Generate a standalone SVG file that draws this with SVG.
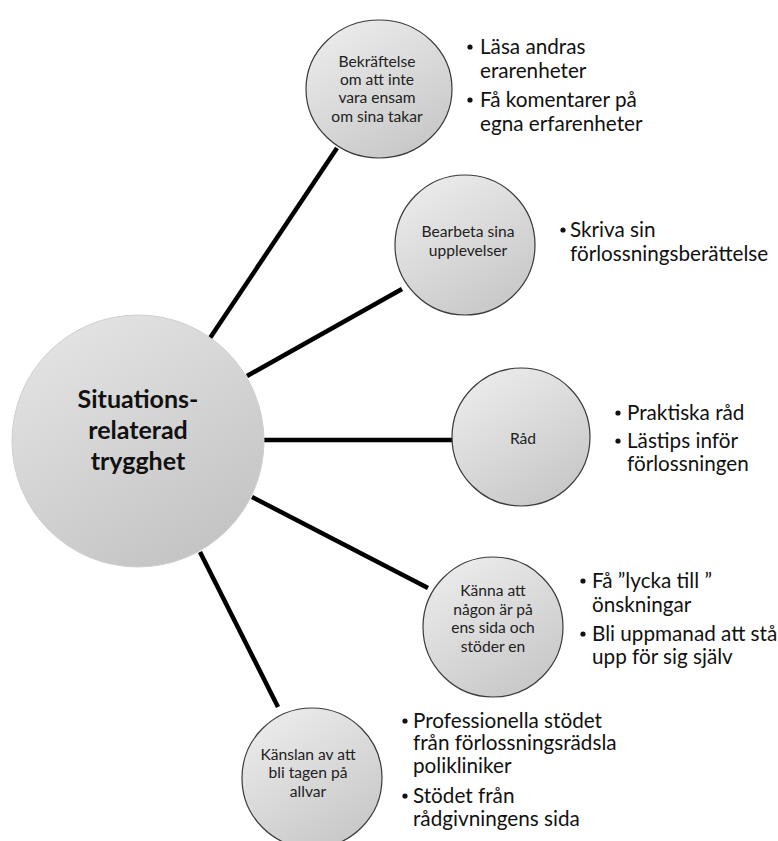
<svg xmlns="http://www.w3.org/2000/svg" width="778" height="841" viewBox="0 0 778 841">
<defs>
<linearGradient id="g" x1="0.2" y1="0" x2="0.8" y2="1">
<stop offset="0" stop-color="#ececec"/>
<stop offset="1" stop-color="#c6c6c6"/>
</linearGradient>
<linearGradient id="gc" x1="0.2" y1="0" x2="0.8" y2="1">
<stop offset="0" stop-color="#e4e4e4"/>
<stop offset="1" stop-color="#c2c2c2"/>
</linearGradient>
</defs>
<style>
.n{fill:url(#g);stroke:#3a3a3a;stroke-width:1.2}
.c{fill:url(#gc);stroke:#cfcfcf;stroke-width:1}
.lt{font-family:Lato,"Liberation Sans",sans-serif;font-size:15.6px;fill:#222;text-anchor:middle}
.ct{font-family:Lato,"Liberation Sans",sans-serif;font-size:25px;font-weight:bold;fill:#111;text-anchor:middle}
.b{font-family:Lato,"Liberation Sans",sans-serif;font-size:20.7px;fill:#111}
.d{fill:#111}
.e{stroke:#000;stroke-width:4.5;stroke-linecap:butt;fill:none}
</style>
<rect width="778" height="841" fill="#fff"/>
<g id="connectors">
<line class="e" x1="210" y1="338" x2="337" y2="148"/>
<line class="e" x1="247" y1="376" x2="402" y2="289"/>
<line class="e" x1="264" y1="440" x2="453" y2="440"/>
<line class="e" x1="252" y1="497" x2="428" y2="588"/>
<line class="e" x1="200" y1="552" x2="278" y2="707"/>
</g>
<g id="center">
<circle class="c" cx="138" cy="441" r="126"/>
<text class="ct" x="138" y="408">Situations-</text>
<text class="ct" x="138" y="439">relaterad</text>
<text class="ct" x="138" y="470">trygghet</text>
</g>
<g id="n1">
<ellipse class="n" cx="379" cy="89" rx="73" ry="69"/>
<text class="lt" x="377" y="67">Bekräftelse</text>
<text class="lt" x="377" y="85">om att inte</text>
<text class="lt" x="377" y="103">vara ensam</text>
<text class="lt" x="377" y="122">om sina takar</text>
</g>
<g id="n2">
<circle class="n" cx="465" cy="245" r="70"/>
<text class="lt" x="468" y="237">Bearbeta sina</text>
<text class="lt" x="468" y="256">upplevelser</text>
</g>
<g id="n3">
<circle class="n" cx="521" cy="437" r="69"/>
<text class="lt" x="523" y="444">Råd</text>
</g>
<g id="n4">
<circle class="n" cx="493" cy="627" r="70"/>
<text class="lt" x="493" y="596">Känna att</text>
<text class="lt" x="493" y="615">någon är på</text>
<text class="lt" x="493" y="633">ens sida och</text>
<text class="lt" x="493" y="652">stöder en</text>
</g>
<g id="n5">
<circle class="n" cx="312" cy="778" r="70"/>
<text class="lt" x="308" y="760">Känslan av att</text>
<text class="lt" x="308" y="778">bli tagen på</text>
<text class="lt" x="308" y="797">allvar</text>
</g>
<g id="b1">
<circle class="d" cx="470" cy="47" r="2.6"/>
<text class="b" x="480" y="54">Läsa andras</text>
<text class="b" x="480" y="78">erarenheter</text>
<circle class="d" cx="470" cy="100" r="2.6"/>
<text class="b" x="480" y="107">Få komentarer på</text>
<text class="b" x="480" y="131">egna erfarenheter</text>
</g>
<g id="b2">
<circle class="d" cx="563" cy="230" r="2.6"/>
<text class="b" x="570" y="237">Skriva sin</text>
<text class="b" x="570" y="261">förlossningsberättelse</text>
</g>
<g id="b3">
<circle class="d" cx="618" cy="413" r="2.6"/>
<text class="b" x="627" y="420">Praktiska råd</text>
<circle class="d" cx="618" cy="441" r="2.6"/>
<text class="b" x="627" y="448">Lästips inför</text>
<text class="b" x="627" y="471">förlossningen</text>
</g>
<g id="b4">
<circle class="d" cx="583" cy="581" r="2.6"/>
<text class="b" x="592" y="588">Få ”lycka till ”</text>
<text class="b" x="592" y="612">önskningar</text>
<circle class="d" cx="583" cy="634" r="2.6"/>
<text class="b" x="592" y="641">Bli uppmanad att stå</text>
<text class="b" x="592" y="664">upp för sig själv</text>
</g>
<g id="b5">
<circle class="d" cx="405" cy="721" r="2.6"/>
<text class="b" x="413" y="728">Professionella stödet</text>
<text class="b" x="413" y="750">från förlossningsrädsla</text>
<text class="b" x="413" y="773">polikliniker</text>
<circle class="d" cx="405" cy="796" r="2.6"/>
<text class="b" x="413" y="803">Stödet från</text>
<text class="b" x="413" y="826">rådgivningens sida</text>
</g>
</svg>
